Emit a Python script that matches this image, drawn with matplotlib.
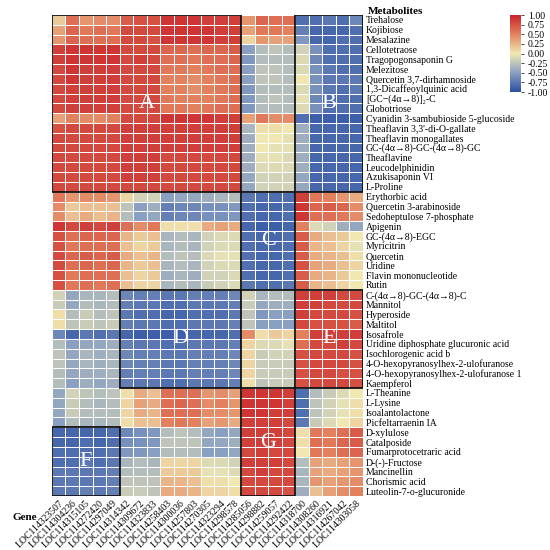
import numpy as np
import matplotlib
matplotlib.use("Agg")
import matplotlib.pyplot as plt
from matplotlib.colors import LinearSegmentedColormap
from matplotlib.patches import Rectangle

plt.rcParams['font.family'] = ['Liberation Serif', 'DejaVu Serif']

genes = ["LOC114323507", "LOC114304236", "LOC114315105", "LOC114272420", "LOC114297049",
         "LOC114314342", "LOC114309672", "LOC114323833", "LOC114258403", "LOC114300036",
         "LOC114257803", "LOC114270305", "LOC114323294", "LOC114298578", "LOC114285056",
         "LOC114298882", "LOC114259057", "LOC114292422", "LOC114318700", "LOC114308260",
         "LOC114316921", "LOC114267042", "LOC114303058"]

metabolites = ["Trehalose", "Kojibiose", "Mesalazine", "Cellotetraose", "Tragopogonsaponin G",
               "Melezitose", "Quercetin 3,7-dirhamnoside", "1,3-Dicaffeoylquinic acid",
               "[GC\u2212(4\u03b1\u21928)]\u2082-C", "Globotriose",
               "Cyanidin 3-sambubioside 5-glucoside", "Theaflavin 3,3'-di-O-gallate",
               "Theaflavin monogallates", "GC-(4\u03b1\u21928)-GC-(4\u03b1\u21928)-GC", "Theaflavine",
               "Leucodelphinidin", "Azukisaponin VI", "L-Proline", "Erythorbic acid",
               "Quercetin 3-arabinoside", "Sedoheptulose 7-phosphate", "Apigenin",
               "GC-(4\u03b1\u21928)-EGC", "Myricitrin", "Quercetin", "Uridine", "Flavin mononucleotide",
               "Rutin", "C-(4\u03b1\u21928)-GC-(4\u03b1\u21928)-C", "Mannitol", "Hyperoside", "Maltitol",
               "Isosafrole", "Uridine diphosphate glucuronic acid", "Isochlorogenic acid b",
               "4-O-hexopyranosylhex-2-ulofuranose", "4-O-hexopyranosylhex-2-ulofuranose 1",
               "Kaempferol", "L-Theanine", "L-Lysine", "Isoalantolactone", "Picfeltarraenin IA",
               "D-xylulose", "Catalposide", "Fumarprotocetraric acid", "D-(-)-Fructose",
               "Mancinellin", "Chorismic acid", "Luteolin-7-o-glucuronide"]

# correlation values, one row per metabolite
values = [
    [0.15, 0.6, 0.4, 0.45, 0.45, 0.7, 0.75, 0.75, 0.9, 0.9, 0.9, 0.85, 0.85, 0.85, 0.4, 0.65, 0.6, 0.6, -0.8, -0.8, -0.75, -0.8, -0.65],
    [0.35, 0.65, 0.55, 0.6, 0.55, 0.8, 0.8, 0.8, 0.9, 0.9, 0.9, 0.9, 0.85, 0.85, 0.35, 0.55, 0.55, 0.5, -0.7, -0.85, -0.85, -0.85, -0.8],
    [0.4, 0.65, 0.6, 0.6, 0.6, 0.8, 0.8, 0.75, 0.9, 0.9, 0.9, 0.9, 0.85, 0.85, 0.1, 0.4, 0.35, 0.35, -0.55, -0.85, -0.85, -0.8, -0.8],
    [0.85, 0.9, 0.9, 0.9, 0.9, 0.8, 0.8, 0.8, 0.65, 0.65, 0.6, 0.65, 0.65, 0.7, -0.5, -0.3, -0.25, -0.3, -0.15, -0.6, -0.8, -0.8, -0.8],
    [0.85, 0.9, 0.9, 0.9, 0.9, 0.8, 0.85, 0.8, 0.6, 0.6, 0.55, 0.6, 0.6, 0.65, -0.55, -0.3, -0.3, -0.3, -0.1, -0.65, -0.8, -0.8, -0.8],
    [0.8, 0.9, 0.85, 0.85, 0.85, 0.8, 0.8, 0.8, 0.55, 0.55, 0.5, 0.55, 0.6, 0.6, -0.5, -0.25, -0.25, -0.3, -0.1, -0.6, -0.75, -0.8, -0.8],
    [0.8, 0.9, 0.85, 0.85, 0.85, 0.8, 0.8, 0.8, 0.5, 0.5, 0.45, 0.5, 0.55, 0.6, -0.5, -0.25, -0.25, -0.3, 0.0, -0.6, -0.75, -0.75, -0.75],
    [0.8, 0.85, 0.85, 0.85, 0.85, 0.8, 0.8, 0.8, 0.5, 0.5, 0.45, 0.5, 0.55, 0.6, -0.55, -0.3, -0.3, -0.3, -0.1, -0.6, -0.75, -0.8, -0.75],
    [0.8, 0.85, 0.85, 0.85, 0.85, 0.8, 0.8, 0.8, 0.55, 0.5, 0.5, 0.5, 0.55, 0.6, -0.55, -0.3, -0.25, -0.3, -0.05, -0.65, -0.8, -0.8, -0.8],
    [0.8, 0.85, 0.85, 0.85, 0.85, 0.8, 0.8, 0.8, 0.55, 0.55, 0.5, 0.55, 0.6, 0.6, -0.55, -0.3, -0.3, -0.3, -0.1, -0.6, -0.8, -0.8, -0.8],
    [0.35, 0.5, 0.45, 0.45, 0.5, 0.8, 0.8, 0.8, 0.9, 0.9, 0.9, 0.9, 0.85, 0.85, 0.35, 0.55, 0.45, 0.45, -0.8, -0.9, -0.9, -0.9, -0.9],
    [0.75, 0.8, 0.8, 0.8, 0.8, 0.85, 0.85, 0.85, 0.85, 0.85, 0.85, 0.85, 0.85, 0.85, -0.35, 0.05, 0.05, 0.0, -0.4, -0.85, -0.85, -0.85, -0.85],
    [0.8, 0.8, 0.8, 0.8, 0.8, 0.85, 0.85, 0.85, 0.85, 0.85, 0.85, 0.85, 0.85, 0.85, -0.4, 0.0, 0.0, -0.05, -0.4, -0.85, -0.85, -0.85, -0.85],
    [0.8, 0.8, 0.8, 0.8, 0.8, 0.85, 0.85, 0.85, 0.85, 0.85, 0.85, 0.85, 0.85, 0.85, -0.4, 0.0, -0.05, -0.05, -0.4, -0.85, -0.85, -0.85, -0.85],
    [0.8, 0.8, 0.8, 0.8, 0.8, 0.85, 0.85, 0.85, 0.8, 0.8, 0.8, 0.8, 0.8, 0.8, -0.4, -0.05, -0.05, -0.1, -0.4, -0.85, -0.85, -0.85, -0.85],
    [0.8, 0.8, 0.8, 0.8, 0.8, 0.85, 0.85, 0.85, 0.8, 0.8, 0.8, 0.8, 0.8, 0.8, -0.4, -0.1, -0.1, -0.1, -0.4, -0.85, -0.85, -0.85, -0.85],
    [0.8, 0.8, 0.8, 0.8, 0.8, 0.85, 0.85, 0.85, 0.8, 0.8, 0.8, 0.8, 0.8, 0.8, -0.45, -0.15, -0.15, -0.15, -0.45, -0.85, -0.85, -0.85, -0.85],
    [0.8, 0.8, 0.8, 0.8, 0.8, 0.8, 0.8, 0.8, 0.8, 0.8, 0.8, 0.8, 0.8, 0.8, -0.45, -0.15, -0.15, -0.15, -0.45, -0.85, -0.85, -0.85, -0.85],
    [0.55, 0.4, 0.45, 0.45, 0.4, 0.1, -0.15, -0.15, -0.5, -0.45, -0.45, -0.4, -0.35, -0.3, -0.75, -0.8, -0.8, -0.8, 0.85, 0.55, 0.5, 0.4, 0.3],
    [0.45, 0.15, 0.2, 0.2, 0.2, -0.25, -0.5, -0.4, -0.7, -0.65, -0.65, -0.6, -0.6, -0.55, -0.8, -0.85, -0.85, -0.8, 0.9, 0.65, 0.7, 0.65, 0.45],
    [0.45, 0.2, 0.3, 0.2, 0.25, -0.3, -0.5, -0.45, -0.7, -0.65, -0.65, -0.6, -0.6, -0.55, -0.8, -0.85, -0.85, -0.8, 0.9, 0.6, 0.6, 0.55, 0.45],
    [0.9, 0.8, 0.85, 0.8, 0.85, 0.6, 0.45, 0.55, 0.05, 0.05, 0.05, 0.3, 0.35, 0.3, -0.85, -0.9, -0.9, -0.85, 0.5, -0.1, -0.15, -0.4, -0.45],
    [0.75, 0.6, 0.65, 0.65, 0.65, 0.25, 0.15, 0.2, -0.35, -0.3, -0.35, -0.15, -0.1, -0.1, -0.8, -0.85, -0.85, -0.8, 0.7, 0.3, 0.2, 0.15, 0.0],
    [0.75, 0.55, 0.6, 0.6, 0.6, 0.2, 0.1, 0.15, -0.35, -0.3, -0.35, -0.15, -0.1, -0.1, -0.8, -0.85, -0.85, -0.8, 0.7, 0.25, 0.2, 0.1, -0.05],
    [0.8, 0.65, 0.7, 0.65, 0.7, 0.3, 0.2, 0.25, -0.3, -0.25, -0.3, -0.1, -0.05, -0.05, -0.8, -0.85, -0.85, -0.8, 0.7, 0.3, 0.25, 0.2, 0.05],
    [0.8, 0.6, 0.65, 0.6, 0.65, 0.25, 0.15, 0.2, -0.35, -0.3, -0.35, -0.15, -0.1, -0.1, -0.8, -0.85, -0.85, -0.8, 0.75, 0.35, 0.3, 0.2, 0.1],
    [0.75, 0.55, 0.6, 0.6, 0.6, 0.2, 0.1, 0.15, -0.4, -0.35, -0.4, -0.15, -0.15, -0.1, -0.8, -0.85, -0.85, -0.8, 0.7, 0.3, 0.25, 0.15, 0.0],
    [0.75, 0.55, 0.6, 0.55, 0.6, 0.2, 0.1, 0.1, -0.35, -0.3, -0.35, -0.2, -0.15, -0.1, -0.75, -0.8, -0.8, -0.75, 0.7, 0.25, 0.2, 0.1, 0.0],
    [-0.15, -0.45, -0.35, -0.35, -0.3, -0.65, -0.7, -0.7, -0.75, -0.75, -0.7, -0.7, -0.7, -0.65, -0.15, -0.35, -0.3, -0.3, 0.85, 0.85, 0.85, 0.8, 0.8],
    [-0.2, -0.45, -0.3, -0.35, -0.3, -0.7, -0.75, -0.75, -0.8, -0.8, -0.75, -0.75, -0.75, -0.7, -0.2, -0.45, -0.4, -0.4, 0.85, 0.85, 0.8, 0.8, 0.8],
    [0.05, -0.3, -0.2, -0.3, -0.25, -0.75, -0.8, -0.8, -0.85, -0.85, -0.8, -0.8, -0.8, -0.75, -0.25, -0.55, -0.5, -0.5, 0.85, 0.8, 0.8, 0.8, 0.75],
    [0.05, -0.25, -0.2, -0.25, -0.2, -0.7, -0.75, -0.75, -0.8, -0.8, -0.75, -0.75, -0.75, -0.7, -0.25, -0.5, -0.5, -0.5, 0.8, 0.75, 0.75, 0.75, 0.7],
    [-0.65, -0.85, -0.75, -0.8, -0.75, -0.85, -0.9, -0.9, -0.9, -0.9, -0.85, -0.85, -0.85, -0.8, 0.45, 0.05, 0.15, 0.1, 0.5, 0.85, 0.85, 0.85, 0.85],
    [-0.3, -0.5, -0.45, -0.45, -0.4, -0.7, -0.75, -0.75, -0.8, -0.8, -0.75, -0.75, -0.75, -0.7, 0.1, -0.1, -0.1, -0.05, 0.6, 0.8, 0.8, 0.85, 0.8],
    [-0.25, -0.45, -0.35, -0.4, -0.35, -0.65, -0.7, -0.7, -0.75, -0.75, -0.7, -0.7, -0.7, -0.65, 0.1, -0.2, -0.15, -0.15, 0.75, 0.8, 0.8, 0.8, 0.75],
    [-0.25, -0.45, -0.35, -0.4, -0.35, -0.65, -0.7, -0.7, -0.75, -0.75, -0.7, -0.7, -0.7, -0.65, 0.1, -0.2, -0.2, -0.2, 0.75, 0.8, 0.8, 0.8, 0.75],
    [-0.3, -0.45, -0.4, -0.4, -0.35, -0.7, -0.7, -0.7, -0.75, -0.75, -0.7, -0.7, -0.7, -0.65, 0.1, -0.2, -0.2, -0.2, 0.75, 0.8, 0.8, 0.75, 0.75],
    [-0.3, -0.5, -0.4, -0.45, -0.4, -0.7, -0.75, -0.75, -0.8, -0.8, -0.75, -0.75, -0.75, -0.7, 0.05, -0.25, -0.2, -0.2, 0.75, 0.8, 0.8, 0.8, 0.75],
    [-0.45, -0.15, -0.25, -0.3, -0.25, 0.05, 0.3, 0.2, 0.6, 0.6, 0.6, 0.4, 0.45, 0.35, 0.9, 0.9, 0.9, 0.85, -0.8, -0.3, -0.2, -0.1, 0.0],
    [-0.45, -0.2, -0.3, -0.35, -0.3, 0.1, 0.35, 0.3, 0.6, 0.65, 0.6, 0.45, 0.5, 0.4, 0.9, 0.9, 0.9, 0.85, -0.8, -0.25, -0.15, -0.05, 0.05],
    [-0.45, -0.2, -0.3, -0.3, -0.3, 0.1, 0.3, 0.25, 0.6, 0.6, 0.6, 0.45, 0.45, 0.4, 0.9, 0.9, 0.85, 0.85, -0.8, -0.25, -0.15, -0.05, 0.05],
    [-0.5, -0.3, -0.35, -0.35, -0.3, 0.05, 0.2, 0.2, 0.5, 0.55, 0.5, 0.35, 0.4, 0.3, 0.85, 0.85, 0.85, 0.8, -0.75, -0.2, -0.1, 0.0, 0.1],
    [-0.85, -0.85, -0.85, -0.85, -0.8, -0.65, -0.6, -0.55, -0.3, -0.25, -0.3, -0.45, -0.5, -0.45, 0.85, 0.85, 0.85, 0.8, 0.05, 0.55, 0.5, 0.6, 0.7],
    [-0.85, -0.85, -0.8, -0.85, -0.8, -0.6, -0.6, -0.55, -0.25, -0.25, -0.25, -0.45, -0.45, -0.4, 0.85, 0.85, 0.85, 0.8, 0.05, 0.6, 0.55, 0.65, 0.7],
    [-0.8, -0.8, -0.8, -0.8, -0.75, -0.55, -0.55, -0.5, -0.3, -0.3, -0.3, -0.5, -0.5, -0.45, 0.8, 0.85, 0.8, 0.8, 0.0, 0.55, 0.5, 0.6, 0.65],
    [-0.8, -0.8, -0.75, -0.8, -0.75, -0.35, -0.3, -0.35, 0.1, 0.1, 0.1, -0.1, -0.1, -0.15, 0.85, 0.85, 0.85, 0.8, -0.3, 0.35, 0.3, 0.35, 0.4],
    [-0.75, -0.75, -0.75, -0.75, -0.7, -0.3, -0.3, -0.3, 0.15, 0.15, 0.15, -0.05, -0.05, -0.1, 0.8, 0.85, 0.8, 0.8, -0.35, 0.35, 0.3, 0.35, 0.4],
    [-0.75, -0.75, -0.75, -0.75, -0.7, -0.25, -0.25, -0.25, 0.25, 0.25, 0.2, 0.05, 0.05, 0.0, 0.8, 0.8, 0.8, 0.8, -0.35, 0.4, 0.35, 0.4, 0.45],
    [-0.75, -0.75, -0.7, -0.75, -0.7, -0.2, -0.2, -0.25, 0.3, 0.3, 0.25, 0.1, 0.1, 0.05, 0.8, 0.8, 0.8, 0.75, -0.4, 0.2, 0.35, 0.45, 0.5],
]

# boxed clusters: label, first column, first row, n columns, n rows
clusters = [("A", 0, 0, 14, 18), ("B", 18, 0, 5, 18), ("C", 14, 18, 4, 10),
            ("D", 5, 28, 9, 10), ("E", 18, 28, 5, 10), ("F", 0, 42, 5, 7),
            ("G", 14, 38, 4, 11)]

cbar_ticks = [1.0, 0.75, 0.5, 0.25, 0.0, -0.25, -0.5, -0.75, -1.0]

cmap = LinearSegmentedColormap.from_list(
    "corr", ["#2b4fa4", "#8aa0c2", "#f0e8b2", "#e3825f", "#c9232a"])

data = np.array(values)
nrow, ncol = data.shape

fig = plt.figure(figsize=(5.5, 5.5), dpi=100)
ax = fig.add_axes([0.0945, 0.0982, 0.5655, 0.8745])
mesh = ax.pcolormesh(np.arange(ncol + 1), np.arange(nrow + 1), data, cmap=cmap,
                     vmin=-1, vmax=1, edgecolors="white", linewidth=0.6)
ax.set_xlim(0, ncol)
ax.set_ylim(nrow, 0)
for s in ax.spines.values():
    s.set_visible(False)

ax.yaxis.tick_right()
ax.set_yticks(np.arange(nrow) + 0.5)
ax.set_yticklabels(metabolites, fontsize=7)
ax.set_xticks(np.arange(ncol) + 0.5)
ax.set_xticklabels(genes, fontsize=7, rotation=45, ha="right", va="top",
                   rotation_mode="anchor")
ax.tick_params(length=0, pad=2)

for name, c0, r0, w, h in clusters:
    ax.add_patch(Rectangle((c0, r0), w, h, fill=False, edgecolor="#111111", lw=1.3,
                           zorder=3))
    ax.text(c0 + w / 2, r0 + h / 2, name, color="white", fontsize=16,
            ha="center", va="center", zorder=4)

fig.text(0.668, 0.988, "Metabolites", fontsize=8, fontweight="bold", va="top")
fig.text(0.022, 0.06, "Gene", fontsize=8, fontweight="bold", va="center")

cax = fig.add_axes([0.927, 0.8327, 0.02, 0.14])
cb = fig.colorbar(mesh, cax=cax, ticks=cbar_ticks)
cb.outline.set_visible(False)
cb.ax.set_yticklabels(["%.2f" % t for t in cbar_ticks])
cb.ax.tick_params(labelsize=7, length=2, width=0.5, pad=3)

fig.savefig("out.png", dpi=100)
